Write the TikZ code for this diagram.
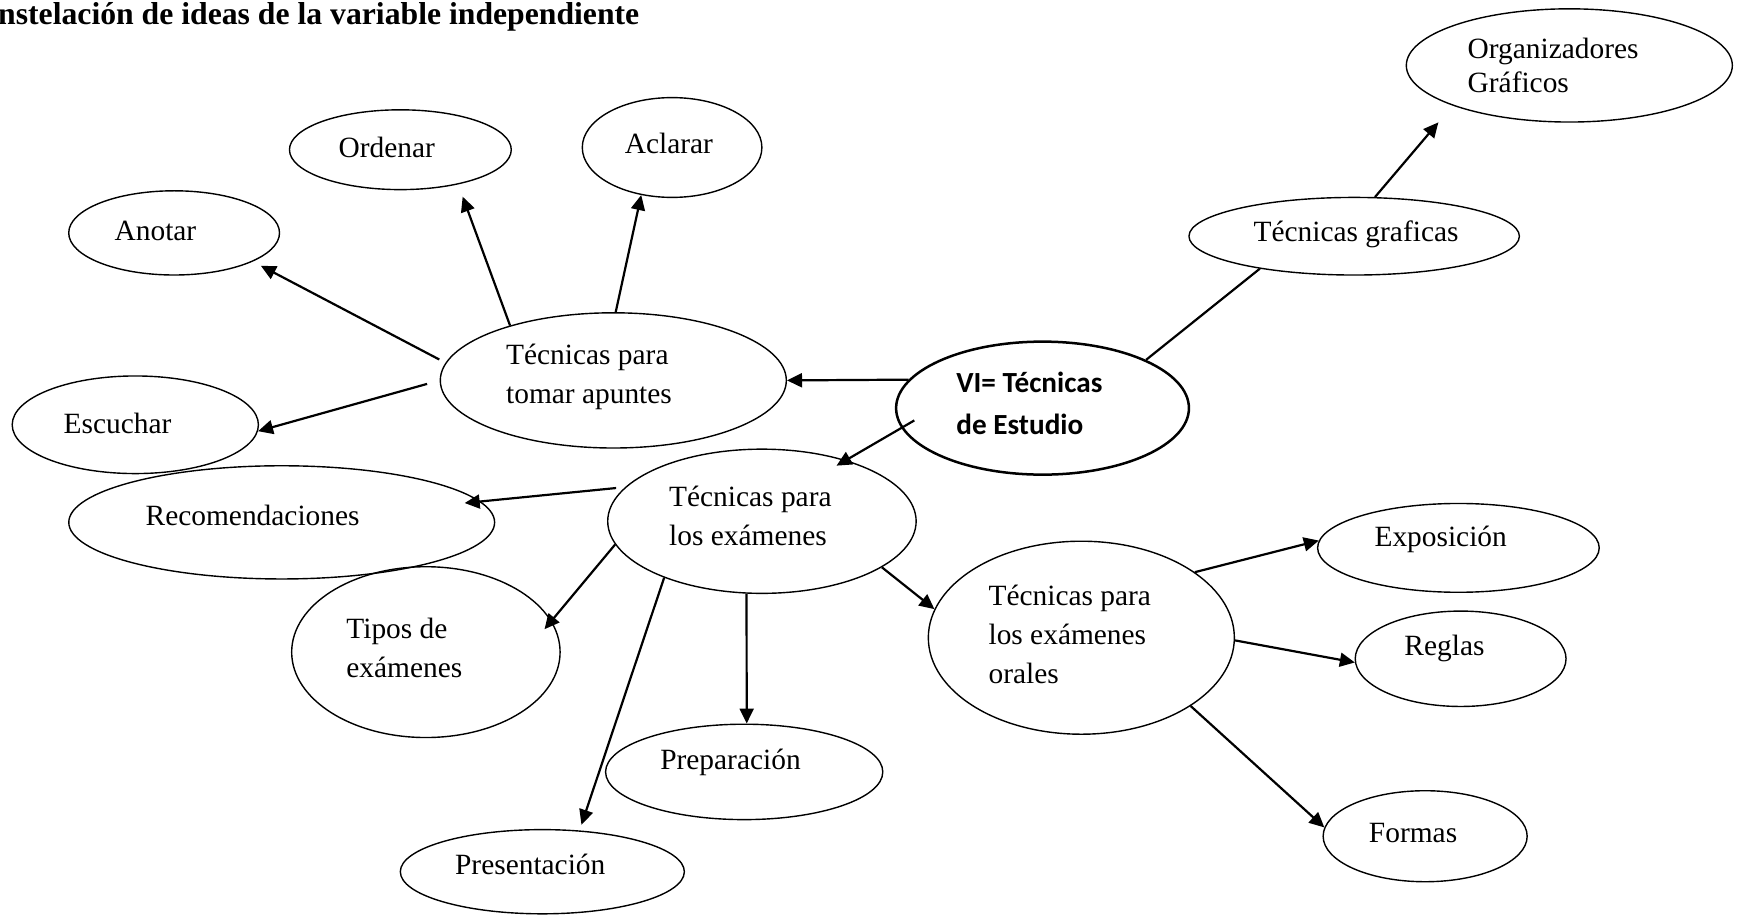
\documentclass[tikz,border=0pt]{standalone}
\usepackage{fontspec}
\setmainfont{Liberation Serif}
\newfontfamily\calibrifont{Carlito}
\usetikzlibrary{shapes.geometric,arrows.meta}
\begin{document}
\begin{tikzpicture}[x=0.5545pt,y=-0.5545pt,
  oval/.style={ellipse,draw,line width=0.7pt,inner sep=0pt},
  lbl/.style={inner sep=0pt,anchor=west,align=left,font=\fontsize{14.7}{19.4}\selectfont},
  conn/.style={line width=1.1pt,-{Triangle[length=7.5pt,width=7pt]}},
  plainline/.style={line width=1.1pt}]
\useasboundingbox (0,0) rectangle (1568,828);

% title
\node[inner sep=0pt,anchor=base west,font=\bfseries\fontsize{15.85}{19}\selectfont] (title) at (-2,22) {nstelación de ideas de la variable independiente};

% ellipses
\node[oval,minimum width=163pt,minimum height=56.6pt] (org) at (1415,59) {};
\node[oval,minimum width=110.9pt,minimum height=39.9pt] (ord) at (361,135) {};
\node[oval,minimum width=89.8pt,minimum height=49.9pt] (acl) at (606,133) {};
\node[oval,minimum width=105.4pt,minimum height=42.1pt] (ano) at (157,210) {};
\node[oval,minimum width=165.2pt,minimum height=38.8pt] (gra) at (1221,213) {};
\node[oval,minimum width=173pt,minimum height=67.6pt] (apu) at (553,343) {};
\node[oval,line width=1.25pt,minimum width=146.4pt,minimum height=66.5pt] (vi) at (940,368) {};
\node[oval,minimum width=123.1pt,minimum height=48.8pt] (esc) at (122,383) {};
\node[oval,minimum width=212.9pt,minimum height=56.6pt] (rec) at (254,471) {};
\node[oval,minimum width=154.2pt,minimum height=72.1pt] (exa) at (687,470) {};
\node[oval,minimum width=134.2pt,minimum height=85.4pt] (tip) at (384,588) {};
\node[oval,minimum width=140.8pt,minimum height=44.4pt] (expo) at (1315,494) {};
\node[oval,minimum width=153pt,minimum height=96.5pt] (ora) at (975,575) {};
\node[oval,minimum width=105.4pt,minimum height=47.7pt] (reg) at (1317,594) {};
\node[oval,minimum width=138.6pt,minimum height=47.7pt] (pre) at (671,696) {};
\node[oval,minimum width=102pt,minimum height=45.5pt] (for) at (1285,754) {};
\node[oval,minimum width=142pt,minimum height=42.1pt] (prs) at (489,786) {};

% texts
\node[lbl,font=\fontsize{14.7}{16.6}\selectfont] (t-org) at (1323,59) {Organizadores\\Gráficos};
\node[lbl] (t-ord) at (305,133) {Ordenar};
\node[lbl] (t-acl) at (563,129) {Aclarar};
\node[lbl] (t-ano) at (103,208) {Anotar};
\node[lbl] (t-gra) at (1130,211) {Técnicas graficas};
\node[lbl] (t-apu) at (456,340) {Técnicas para\\tomar apuntes};
\node[lbl,font=\calibrifont\bfseries\fontsize{14.6}{21.1}\selectfont] (t-vi) at (862,364) {VI= Técnicas\\de Estudio};
\node[lbl] (t-esc) at (57,382) {Escuchar};
\node[lbl] (t-rec) at (131,465) {Recomendaciones};
\node[lbl] (t-exa) at (603,465) {Técnicas para\\los exámenes};
\node[lbl] (t-tip) at (312,584) {Tipos de\\exámenes};
\node[lbl] (t-expo) at (1239,486) {Exposición};
\node[lbl] (t-ora) at (891,572) {Técnicas para\\los exámenes\\orales};
\node[lbl] (t-reg) at (1266,585) {Reglas};
\node[lbl] (t-pre) at (595,687) {Preparación};
\node[lbl] (t-for) at (1234,751) {Formas};
\node[lbl] (t-prs) at (410,779) {Presentación};

% connectors
\draw[conn,shorten <=3.5pt,shorten >=4.5pt] (apu.174) -- (ano.340);
\draw[conn,shorten >=6.5pt] (apu.152) -- (ord.-31.5);
\draw[conn] (apu.88) -- (acl.237);
\draw[conn,shorten <=6.5pt] (apu.180) -- (esc.357);
\draw[conn] (vi.168) -- (apu.0);
\draw[plainline] (vi.25) -- (gra.199);
\draw[conn,shorten >=11pt] (gra.62) -- (org.199.4);
\draw[conn,shorten <=-7.5pt,shorten >=-5.5pt] (vi.188.4) -- (exa.36.2);
\draw[conn,shorten <=4.5pt,shorten >=-8pt] (exa.166) -- (rec.6.4);
\draw[conn,shorten >=-5.5pt] (exa.189) -- (tip.14.8);
\draw[conn,shorten >=3pt] (exa.210) -- (prs.48);
\draw[conn] (exa.258) -- (pre.87.5);
\draw[conn] (exa.339) -- (ora.169.3);
\draw[conn] (ora.30.2) -- (expo.177);
\draw[conn] (ora.-1.5) -- (reg.182);
\draw[conn] (ora.328.2) -- (for.175);
\end{tikzpicture}
\end{document}
